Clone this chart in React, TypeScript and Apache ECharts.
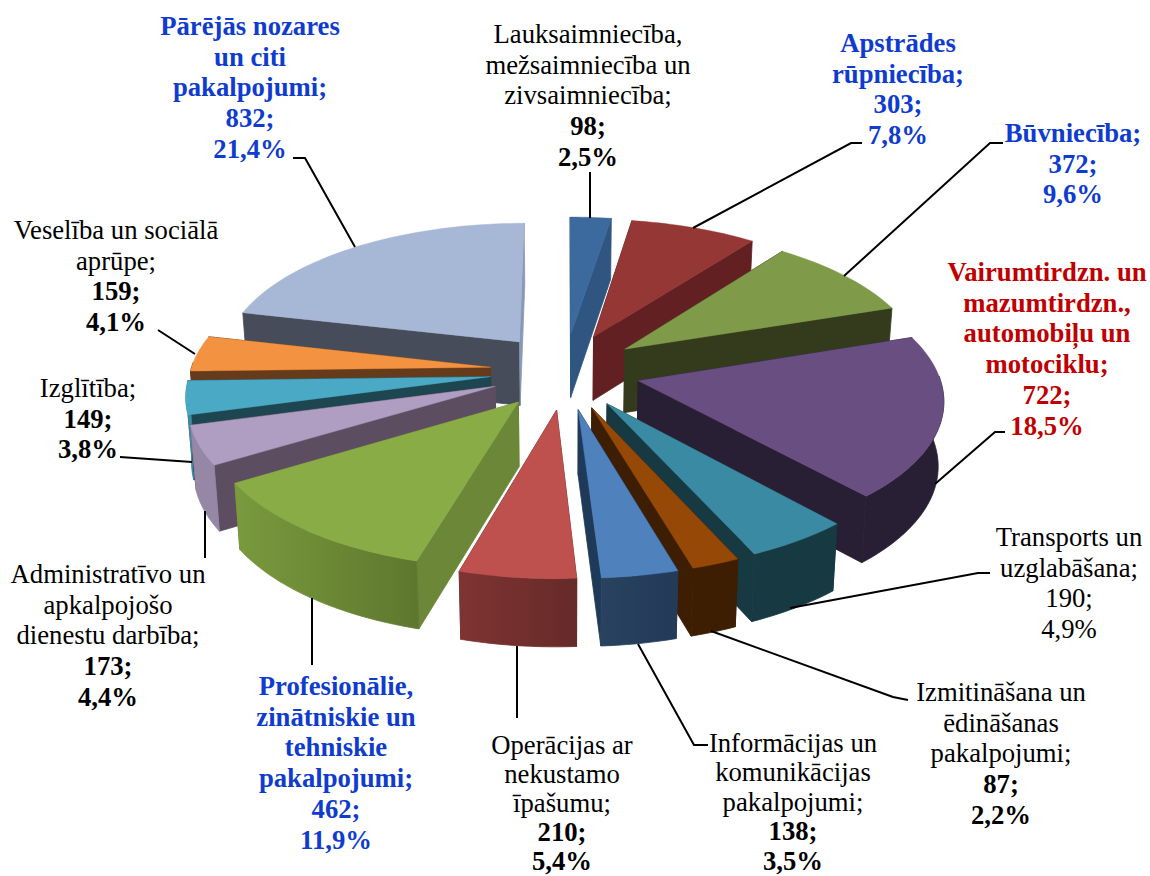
import React, { useEffect, useRef } from "react";
import * as echarts from "echarts";

const nameLines: string[][] = [
  ["Lauksaimniecība,", "mežsaimniecība un", "zivsaimniecība;"],
  ["Apstrādes", "rūpniecība;"],
  ["Būvniecība;"],
  ["Vairumtirdzn. un", "mazumtirdzn.,", "automobiļu un", "motociklu;"],
  ["Transports un", "uzglabāšana;"],
  ["Izmitināšana un", "ēdināšanas", "pakalpojumi;"],
  ["Informācijas un", "komunikācijas", "pakalpojumi;"],
  ["Operācijas ar", "nekustamo", "īpašumu;"],
  ["Profesionālie,", "zinātniskie un", "tehniskie", "pakalpojumi;"],
  ["Administratīvo un", "apkalpojošo", "dienestu darbība;"],
  ["Izglītība;"],
  ["Veselība un sociālā", "aprūpe;"],
  ["Pārējās nozares", "un citi", "pakalpojumi;"],
];
const values = [98, 303, 372, 722, 190, 87, 138, 210, 462, 173, 149, 159, 832];
const percents = ["2,5%", "7,8%", "9,6%", "18,5%", "4,9%", "2,2%", "3,5%", "5,4%", "11,9%", "4,4%", "3,8%", "4,1%", "21,4%"];

const topColors = ["#3C6A9E", "#953735", "#7F9A48", "#684E81", "#3B8AA3", "#964807", "#4F81BD", "#BE514E", "#8AAC47", "#AF9DC2", "#4AA9C4", "#F39240", "#A7B7D6"];
const startWallColors = ["#2F5580", "#622022", "#343B1C", "#291F35", "#173942", "#3E1E02", "#1F3A58", "#722F2D", "#6B8737", "#5C4D60", "#1D4650", "#663B1C", "#464C59"];
const endWallColors = ["#2F5580", "#622022", "#343B1C", "#291F35", "#173942", "#3E1E02", "#1F3A58", "#722F2D", "#6B8737", "#5C4D60", "#1D4650", "#663B1C", "#8899B8"];
const outerLeftColors = ["#2F5580", "#622022", "#343B1C", "#291F35", "#173942", "#3E1E02", "#28425F", "#7E3432", "#7A9A3D", "#9587A5", "#3B8CA3", "#663B1C", "#464C59"];
const outerRightColors = ["#2F5580", "#622022", "#343B1C", "#291F35", "#173942", "#3E1E02", "#233A58", "#662A28", "#5E772E", "#9587A5", "#3B8CA3", "#663B1C", "#464C59"];

const BLUE = "#0F3CCF";
const RED = "#C00000";
const BLACK = "#000000";
const LINE_H = 30.7;
// centre x, first line y, line height, colour, whole label bold, figures bold
const labelLayout: [number, number, number, string, boolean, boolean][] = [
  [588, 34, LINE_H, BLACK, false, true],
  [898, 43, LINE_H, BLUE, true, true],
  [1073, 133, LINE_H, BLUE, true, true],
  [1047, 272, LINE_H, RED, true, true],
  [1069, 537, LINE_H, BLACK, false, false],
  [1001, 692, LINE_H, BLACK, false, true],
  [793, 743, 29.4, BLACK, false, true],
  [562, 745, 29, BLACK, false, true],
  [336, 686, LINE_H, BLUE, true, true],
  [108, 574, LINE_H, BLACK, false, true],
  [88, 388, LINE_H, BLACK, false, true],
  [116, 230, LINE_H, BLACK, false, true],
  [250, 26, LINE_H, BLUE, true, true],
];
const FONT = "'Liberation Serif', 'Times New Roman', serif";
const FONT_SIZE = 26.7;

const leaderPaths: number[][][] = [
  [[590, 218], [590, 172]],
  [[693, 228], [851, 143], [862, 143]],
  [[844, 276], [990, 143], [1003, 143]],
  [[935, 484], [995, 432], [1005, 432]],
  [[790, 608], [978, 573], [990, 573]],
  [[711, 631], [893, 697], [908, 700]],
  [[638, 644], [694, 745], [708, 745]],
  [[517, 646], [517, 718]],
  [[312, 598], [312, 665]],
  [[205, 511], [205, 558]],
  [[120, 457], [192, 462]],
  [[158, 330], [195, 354]],
  [[355, 247], [305, 158], [293, 158]],
];

// projection of the tilted pie
const CX = 565;
const CY = 371;
const SCALE_X = 375;
const SCALE_Y = 177;
const PERSP = 0.149;
const RADIUS_X = 0.8;
const RADIUS_Y = 0.785;
const EXPLODE_X = 0.2;
const EXPLODE_Y = 0.215;
const WALL = 64;

const total = values.reduce((a, b) => a + b, 0);
const rad = (d: number) => (d * Math.PI) / 180;
const starts: number[] = [];
values.reduce((acc, v, i) => {
  starts[i] = (acc / total) * 360;
  return acc + v;
}, 0);

function top(wx: number, wy: number): number[] {
  const w = 1 + PERSP * wy;
  return [CX + (SCALE_X * wx) / w, CY - (SCALE_Y * wy) / w];
}
function bottom(wx: number, wy: number): number[] {
  const w = 1 + PERSP * wy;
  return [CX + ((SCALE_X * wx) / w) * 0.985, CY - ((SCALE_Y * wy) / w) * 1.02 + WALL];
}

function renderSlice(_: any, api: any) {
  const i = api.value(0) as number;
  const sweep = (api.value(1) / total) * 360;
  const a0 = starts[i];
  const a1 = a0 + sweep;
  const mid = rad((a0 + a1) / 2);
  const ox = EXPLODE_X * Math.sin(mid);
  const oy = EXPLODE_Y * Math.cos(mid);
  const rim = (deg: number) => [ox + RADIUS_X * Math.sin(rad(deg)), oy + RADIUS_Y * Math.cos(rad(deg))];
  const arc = (from: number, to: number) => {
    const n = Math.max(2, Math.ceil((to - from) / 1.5));
    const pts: number[][] = [];
    for (let k = 0; k <= n; k++) pts.push(rim(from + ((to - from) * k) / n));
    return pts;
  };
  const poly = (points: number[][], fill: any, lineWidth: number) => ({
    type: "polygon",
    shape: { points },
    style: { fill, stroke: fill, lineWidth },
  });
  const children: any[] = [];
  const [s, e] = [rim(a0), rim(a1)];
  children.push(poly([top(ox, oy), top(s[0], s[1]), bottom(s[0], s[1]), bottom(ox, oy)], startWallColors[i], 0.8));
  children.push(poly([top(ox, oy), top(e[0], e[1]), bottom(e[0], e[1]), bottom(ox, oy)], endWallColors[i], 0.8));
  const from = Math.max(a0, 88);
  const to = Math.min(a1, 272);
  if (to > from) {
    const pts = arc(from, to);
    const outline = [...pts.map((p) => top(p[0], p[1])), ...pts.slice().reverse().map((p) => bottom(p[0], p[1]))];
    const fill =
      outerLeftColors[i] === outerRightColors[i]
        ? outerLeftColors[i]
        : new echarts.graphic.LinearGradient(0, 0, 1, 0, [
            { offset: 0, color: outerLeftColors[i] },
            { offset: 1, color: outerRightColors[i] },
          ]);
    children.push(poly(outline, fill, 0.8));
  }
  const face = [[ox, oy], ...arc(a0, a1)].map((p) => top(p[0], p[1]));
  children.push(poly(face, topColors[i], 0.4));
  return { type: "group", children };
}

function buildLabels(): any[] {
  const out: any[] = [];
  leaderPaths.forEach((points) => {
    out.push({
      type: "polyline",
      shape: { points },
      style: { stroke: "#000000", lineWidth: 2, fill: "none" },
      z: 20,
    });
  });
  nameLines.forEach((names, i) => {
    const [x, y, lh, color, boldAll, boldNums] = labelLayout[i];
    const rows = [...names, `${values[i]};`, percents[i]];
    rows.forEach((text, r) => {
      const isNum = r >= names.length;
      out.push({
        type: "text",
        x,
        y: y + r * lh,
        z: 21,
        style: {
          text,
          fill: color,
          fontFamily: FONT,
          fontSize: FONT_SIZE,
          fontWeight: boldAll || (isNum && boldNums) ? "bold" : "normal",
          textAlign: "center",
          textVerticalAlign: "middle",
        },
      });
    });
  });
  return out;
}

export default function App() {
  const ref = useRef<HTMLDivElement>(null);
  useEffect(() => {
    document.body.style.margin = "0";
    const chart = echarts.init(ref.current!, null, { renderer: "svg" });
    const order = values
      .map((v, i) => ({ i, v, c: Math.cos(rad(starts[i] + (v / total) * 180)) }))
      .sort((a, b) => b.c - a.c);
    chart.setOption({
      animation: false,
      backgroundColor: "#FFFFFF",
      series: [
        {
          type: "custom",
          coordinateSystem: "none",
          renderItem: renderSlice,
          data: order.map((o) => [o.i, o.v]),
          silent: true,
        },
      ],
      graphic: { elements: buildLabels() },
    });
    return () => chart.dispose();
  }, []);
  return <div ref={ref} style={{ width: 1150, height: 876 }} />;
}
